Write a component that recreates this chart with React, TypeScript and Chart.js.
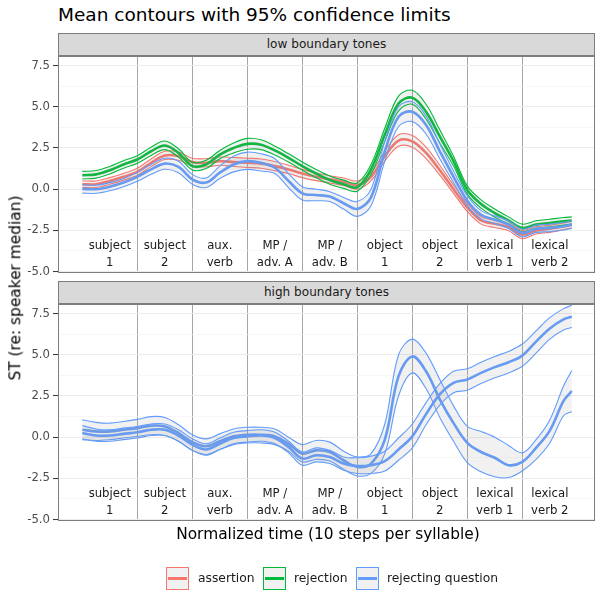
import React, { useEffect, useRef } from 'react';
import { Chart, registerables } from 'chart.js';
Chart.register(...registerables);

// ---------- data ----------
const TIME = [0, 2.5, 5, 7.5, 10, 12.5, 15, 17.5, 20, 22.5, 25, 27.5, 30, 32.5, 35, 37.5, 40, 42.5, 45, 47.5, 50, 52.5, 55, 57.5, 60, 62.5, 65, 67.5, 70, 72.5, 75, 77.5, 80, 82.5, 85, 87.5, 89];
const SYLLABLES = ['subject\n1', 'subject\n2', 'aux.\nverb', 'MP /\nadv. A', 'MP /\nadv. B', 'object\n1', 'object\n2', 'lexical\nverb 1', 'lexical\nverb 2'];
const SYLLABLE_CENTERS = [5, 15, 25, 35, 45, 55, 65, 75, 85];
const BOUNDARIES = [10, 20, 30, 40, 50, 60, 70, 80];
const Y_TICKS = [-5, -3.75, -2.5, -1.25, 0, 1.25, 2.5, 3.75, 5, 6.25, 7.5];
const LABEL_Y = [-3.62, -4.67];
const PANELS = ['low boundary tones', 'high boundary tones'];
const LEGEND = ['assertion', 'rejection', 'rejecting question'];

// low boundary tones
const LOW_ASSERT_MEAN = [0.3, 0.3, 0.5, 0.75, 1.05, 1.6, 2.05, 2.0, 1.65, 1.6, 1.7, 1.65, 1.6, 1.55, 1.4, 1.2, 0.95, 0.75, 0.6, 0.45, 0.25, 0.75, 2.0, 2.95, 2.9, 2.2, 1.15, 0.0, -1.1, -1.9, -2.1, -2.3, -2.75, -2.5, -2.4, -2.25, -2.15];
const LOW_ASSERT_HI = [0.5, 0.5, 0.7, 0.95, 1.27, 1.83, 2.3, 2.25, 1.88, 1.85, 1.95, 1.92, 1.88, 1.83, 1.68, 1.45, 1.2, 0.98, 0.82, 0.68, 0.5, 1.0, 2.3, 3.3, 3.25, 2.55, 1.45, 0.25, -0.85, -1.68, -1.88, -2.08, -2.5, -2.28, -2.18, -2.05, -1.95];
const LOW_ASSERT_LO = [0.1, 0.1, 0.3, 0.55, 0.83, 1.37, 1.8, 1.75, 1.42, 1.35, 1.45, 1.38, 1.32, 1.27, 1.12, 0.95, 0.7, 0.52, 0.38, 0.22, 0.0, 0.5, 1.7, 2.6, 2.55, 1.85, 0.85, -0.25, -1.35, -2.12, -2.32, -2.52, -3.0, -2.72, -2.62, -2.45, -2.35];

const LOW_REJ_MEAN = [0.85, 0.9, 1.15, 1.5, 1.8, 2.3, 2.65, 2.2, 1.4, 1.5, 2.1, 2.5, 2.75, 2.7, 2.35, 1.9, 1.4, 0.95, 0.55, 0.3, 0.12, 1.2, 3.3, 5.2, 5.55, 4.7, 3.2, 1.7, -0.05, -0.9, -1.45, -1.9, -2.35, -2.15, -2.05, -1.95, -1.9];
const LOW_REJ_HI = [1.08, 1.13, 1.38, 1.73, 2.03, 2.55, 2.92, 2.45, 1.63, 1.75, 2.35, 2.8, 3.08, 3.0, 2.62, 2.15, 1.65, 1.2, 0.8, 0.55, 0.38, 1.5, 3.7, 5.65, 6.0, 5.15, 3.6, 2.0, 0.2, -0.65, -1.2, -1.68, -2.12, -1.92, -1.82, -1.72, -1.68];
const LOW_REJ_LO = [0.62, 0.67, 0.92, 1.27, 1.57, 2.05, 2.4, 1.95, 1.17, 1.25, 1.85, 2.2, 2.42, 2.4, 2.08, 1.65, 1.15, 0.7, 0.3, 0.05, -0.12, 0.9, 2.9, 4.75, 5.15, 4.25, 2.8, 1.4, -0.3, -1.15, -1.7, -2.12, -2.58, -2.38, -2.28, -2.18, -2.12];

const LOW_RQ_MEAN = [0.02, 0.0, 0.15, 0.4, 0.75, 1.2, 1.55, 1.35, 0.6, 0.4, 1.0, 1.5, 1.7, 1.6, 1.3, 0.5, -0.25, -0.35, -0.45, -0.85, -1.2, -0.5, 2.3, 4.4, 4.7, 3.9, 2.3, 0.75, -0.7, -1.55, -1.85, -2.15, -2.65, -2.4, -2.35, -2.25, -2.15];
const LOW_RQ_HI = [0.26, 0.25, 0.4, 0.65, 1.02, 1.5, 1.88, 1.7, 0.9, 0.68, 1.4, 2.0, 2.25, 2.15, 1.85, 0.95, 0.15, 0.0, -0.15, -0.5, -0.75, 0.0, 2.9, 5.0, 5.3, 4.45, 2.75, 1.1, -0.4, -1.3, -1.62, -1.92, -2.42, -2.18, -2.12, -2.02, -1.92];
const LOW_RQ_LO = [-0.24, -0.25, -0.1, 0.15, 0.48, 0.9, 1.21, 1.0, 0.3, 0.1, 0.65, 1.05, 1.2, 1.1, 0.95, 0.1, -0.65, -0.7, -0.75, -1.2, -1.65, -1.0, 1.7, 3.8, 4.1, 3.35, 1.85, 0.4, -1.0, -1.8, -2.08, -2.38, -2.88, -2.62, -2.58, -2.48, -2.38];

// high boundary tones (rejecting question, two contour groups)
const HIGH_A_MEAN = [0.45, 0.35, 0.35, 0.45, 0.55, 0.7, 0.65, 0.25, -0.3, -0.55, -0.25, 0.05, 0.15, 0.15, 0.05, -0.4, -1.0, -0.8, -0.9, -1.4, -1.8, -1.6, -0.15, 3.7, 4.9, 4.0, 2.3, 0.85, -0.35, -0.9, -1.25, -1.7, -1.5, -0.65, 0.4, 2.2, 2.8];
const HIGH_A_HI = [1.05, 0.9, 0.85, 0.95, 1.08, 1.25, 1.2, 0.75, 0.15, -0.1, 0.2, 0.5, 0.6, 0.6, 0.5, 0.0, -0.45, -0.2, -0.3, -0.85, -1.2, -1.0, 0.8, 5.0, 5.95, 5.1, 3.5, 1.9, 0.65, 0.35, 0.0, -0.5, -0.95, -0.15, 1.05, 3.1, 4.05];
const HIGH_A_LO = [-0.15, -0.2, -0.15, -0.05, 0.05, 0.15, 0.1, -0.25, -0.8, -1.05, -0.75, -0.45, -0.35, -0.35, -0.45, -0.85, -1.5, -1.35, -1.45, -1.95, -2.35, -2.2, -1.0, 2.5, 3.9, 2.95, 1.2, -0.25, -1.55, -2.1, -2.4, -2.45, -2.05, -1.35, -0.35, 1.3, 1.55];

const HIGH_B_MEAN = [0.25, 0.1, 0.1, 0.2, 0.3, 0.45, 0.45, 0.1, -0.45, -0.75, -0.4, -0.05, 0.05, 0.1, -0.05, -0.6, -1.3, -1.1, -1.2, -1.6, -1.75, -1.7, -1.45, -0.75, 0.05, 1.4, 2.6, 3.3, 3.5, 3.9, 4.25, 4.55, 4.95, 5.8, 6.6, 7.15, 7.3];
const HIGH_B_HI = [0.7, 0.5, 0.45, 0.55, 0.65, 0.8, 0.8, 0.45, -0.1, -0.4, -0.05, 0.3, 0.4, 0.45, 0.3, -0.25, -0.9, -0.65, -0.8, -1.2, -1.25, -1.15, -0.85, -0.05, 0.8, 2.1, 3.25, 4.0, 4.15, 4.55, 4.9, 5.2, 5.65, 6.45, 7.25, 7.8, 8.0];
const HIGH_B_LO = [-0.1, -0.25, -0.25, -0.15, -0.05, 0.1, 0.1, -0.25, -0.8, -1.1, -0.75, -0.4, -0.3, -0.25, -0.4, -0.95, -1.7, -1.5, -1.6, -2.0, -2.2, -2.2, -2.05, -1.4, -0.65, 0.75, 1.95, 2.7, 2.85, 3.25, 3.6, 3.9, 4.3, 5.1, 5.95, 6.5, 6.65];

// ---------- style ----------
const RED = '#F8766D';
const GREEN = '#00BA38';
const BLUE = '#619CFF';
const BAND = 'rgba(150,150,150,0.13)';
const FONT = '"DejaVu Sans", Verdana, sans-serif';
const X_MIN = -4.42;
const X_MAX = 93.22;
const Y_MIN = -5;
const Y_MAX = 8.08;

const isMajor = (v: number) => Math.abs(v / 2.5 - Math.round(v / 2.5)) < 1e-6;

function group(color: string, hi: number[], lo: number[], mean: number[]) {
  const pts = (arr: number[]) => arr.map((y, i) => ({ x: TIME[i], y }));
  const base = { pointRadius: 0, tension: 0.35, borderColor: color };
  return [
    { ...base, data: pts(hi), borderWidth: 1.1, fill: '+1', backgroundColor: BAND },
    { ...base, data: pts(lo), borderWidth: 1.1, fill: false },
    { ...base, data: pts(mean), borderWidth: 2.6, fill: false },
  ];
}

const overlayPlugin = {
  id: 'overlay',
  afterDatasetsDraw(chart: any) {
    const { ctx, scales, chartArea } = chart;
    const x = scales.x, y = scales.y;
    ctx.save();
    ctx.font = `11.7px ${FONT}`;
    ctx.fillStyle = '#1a1a1a';
    ctx.textAlign = 'center';
    ctx.textBaseline = 'alphabetic';
    SYLLABLES.forEach((s, i) => {
      const lines = s.split('\n');
      const cx = x.getPixelForValue(SYLLABLE_CENTERS[i]);
      lines.forEach((t, j) => ctx.fillText(t, cx, y.getPixelForValue(LABEL_Y[j])));
    });
    ctx.strokeStyle = '#7d7d7d';
    ctx.lineWidth = 1;
    ctx.strokeRect(Math.round(chartArea.left) + 0.5, Math.round(chartArea.top) + 0.5,
      Math.round(chartArea.right - chartArea.left) - 1, Math.round(chartArea.bottom - chartArea.top));
    ctx.restore();
  },
};

function Panel({ top, datasets }: { top: number; datasets: any[] }) {
  const ref = useRef<HTMLCanvasElement>(null);
  useEffect(() => {
    const chart = new Chart(ref.current as HTMLCanvasElement, {
      type: 'line',
      data: { datasets },
      options: {
        animation: false,
        responsive: false,
        devicePixelRatio: 1,
        layout: { padding: { top: 16, bottom: 18.4, left: 0, right: 1 } },
        plugins: { legend: { display: false }, tooltip: { enabled: false } },
        scales: {
          x: {
            type: 'linear', min: X_MIN, max: X_MAX,
            afterBuildTicks: (s: any) => { s.ticks = BOUNDARIES.map((v) => ({ value: v })); },
            afterFit: (s: any) => { s.height = 0; },
            ticks: { display: false },
            grid: { color: '#a6a6a6', lineWidth: 1, drawTicks: false },
            border: { display: false },
          },
          y: {
            type: 'linear', min: Y_MIN, max: Y_MAX,
            afterBuildTicks: (s: any) => { s.ticks = Y_TICKS.map((v) => ({ value: v })); },
            afterFit: (s: any) => { s.width = 58; },
            ticks: {
              autoSkip: false,
              padding: 3,
              color: '#4d4d4d',
              font: { family: FONT, size: 11.7 },
              callback: (v: any) => (isMajor(Number(v)) ? Number(v).toFixed(1) : ''),
            },
            grid: {
              color: (c: any) => (isMajor(c.tick.value) ? '#ebebeb' : '#f3f3f3'),
              lineWidth: (c: any) => (isMajor(c.tick.value) ? 1.1 : 0.7),
              tickColor: (c: any) => (isMajor(c.tick.value) ? '#333333' : 'rgba(0,0,0,0)'),
              tickLength: 5,
              tickWidth: 1,
            },
            border: { display: false },
          },
        },
      } as any,
      plugins: [overlayPlugin],
    });
    return () => chart.destroy();
  }, []);
  return (
    <div style={{ position: 'absolute', left: 0, top, width: 596, height: 250 }}>
      <canvas ref={ref} width={596} height={250} style={{ width: 596, height: 250, display: 'block' }} />
    </div>
  );
}

function Strip({ top, text }: { top: number; text: string }) {
  return (
    <div style={{
      position: 'absolute', left: 58, top, width: 537, height: 23, boxSizing: 'border-box',
      background: '#d9d9d9', border: '1px solid #7d7d7d', color: '#1a1a1a',
      font: `12.1px ${FONT}`, lineHeight: '20px', textAlign: 'center',
    }}>{text}</div>
  );
}

function LegendKey({ left, color, text, textLeft }: { left: number; color: string; text: string; textLeft: number }) {
  return (
    <>
      <div style={{
        position: 'absolute', left, top: 567, width: 23, height: 23, boxSizing: 'border-box',
        border: `1.3px solid ${color}`, background: '#f1f1f1',
      }}>
        <div style={{ position: 'absolute', left: 1, right: 1, top: 8.5, height: 3, background: color }} />
      </div>
      <div style={{
        position: 'absolute', left: textLeft, top: 572, font: `12.3px ${FONT}`, lineHeight: '12.3px',
        color: '#1a1a1a', whiteSpace: 'nowrap',
      }}>{text}</div>
    </>
  );
}

export default function App() {
  const lowSets = [
    ...group(BLUE, LOW_RQ_HI, LOW_RQ_LO, LOW_RQ_MEAN),
    ...group(GREEN, LOW_REJ_HI, LOW_REJ_LO, LOW_REJ_MEAN),
    ...group(RED, LOW_ASSERT_HI, LOW_ASSERT_LO, LOW_ASSERT_MEAN),
  ];
  const highSets = [
    ...group(BLUE, HIGH_B_HI, HIGH_B_LO, HIGH_B_MEAN),
    ...group(BLUE, HIGH_A_HI, HIGH_A_LO, HIGH_A_MEAN),
  ];
  return (
    <div style={{ position: 'absolute', left: 0, top: 0, width: 596, height: 592, background: '#fff', overflow: 'hidden' }}>
      <div style={{ position: 'absolute', left: 58, top: 6, font: `18.5px ${FONT}`, lineHeight: '18.5px', color: '#000', whiteSpace: 'nowrap' }}>
        Mean contours with 95% confidence limits
      </div>
      <Panel top={40} datasets={lowSets} />
      <Panel top={288} datasets={highSets} />
      <Strip top={33} text={PANELS[0]} />
      <Strip top={281} text={PANELS[1]} />
      <div style={{
        position: 'absolute', left: 16, top: 288, font: `15.4px ${FONT}`, lineHeight: '15.4px', color: '#000',
        whiteSpace: 'nowrap', transform: 'translate(-50%,-50%) rotate(-90deg)',
      }}>ST (re: speaker median)</div>
      <div style={{
        position: 'absolute', left: 328, top: 526.5, font: `15.4px ${FONT}`, lineHeight: '15.4px', color: '#000',
        whiteSpace: 'nowrap', transform: 'translateX(-50%)',
      }}>Normalized time (10 steps per syllable)</div>
      <LegendKey left={166} color={RED} text={LEGEND[0]} textLeft={198} />
      <LegendKey left={262.5} color={GREEN} text={LEGEND[1]} textLeft={294} />
      <LegendKey left={356} color={BLUE} text={LEGEND[2]} textLeft={387} />
    </div>
  );
}
